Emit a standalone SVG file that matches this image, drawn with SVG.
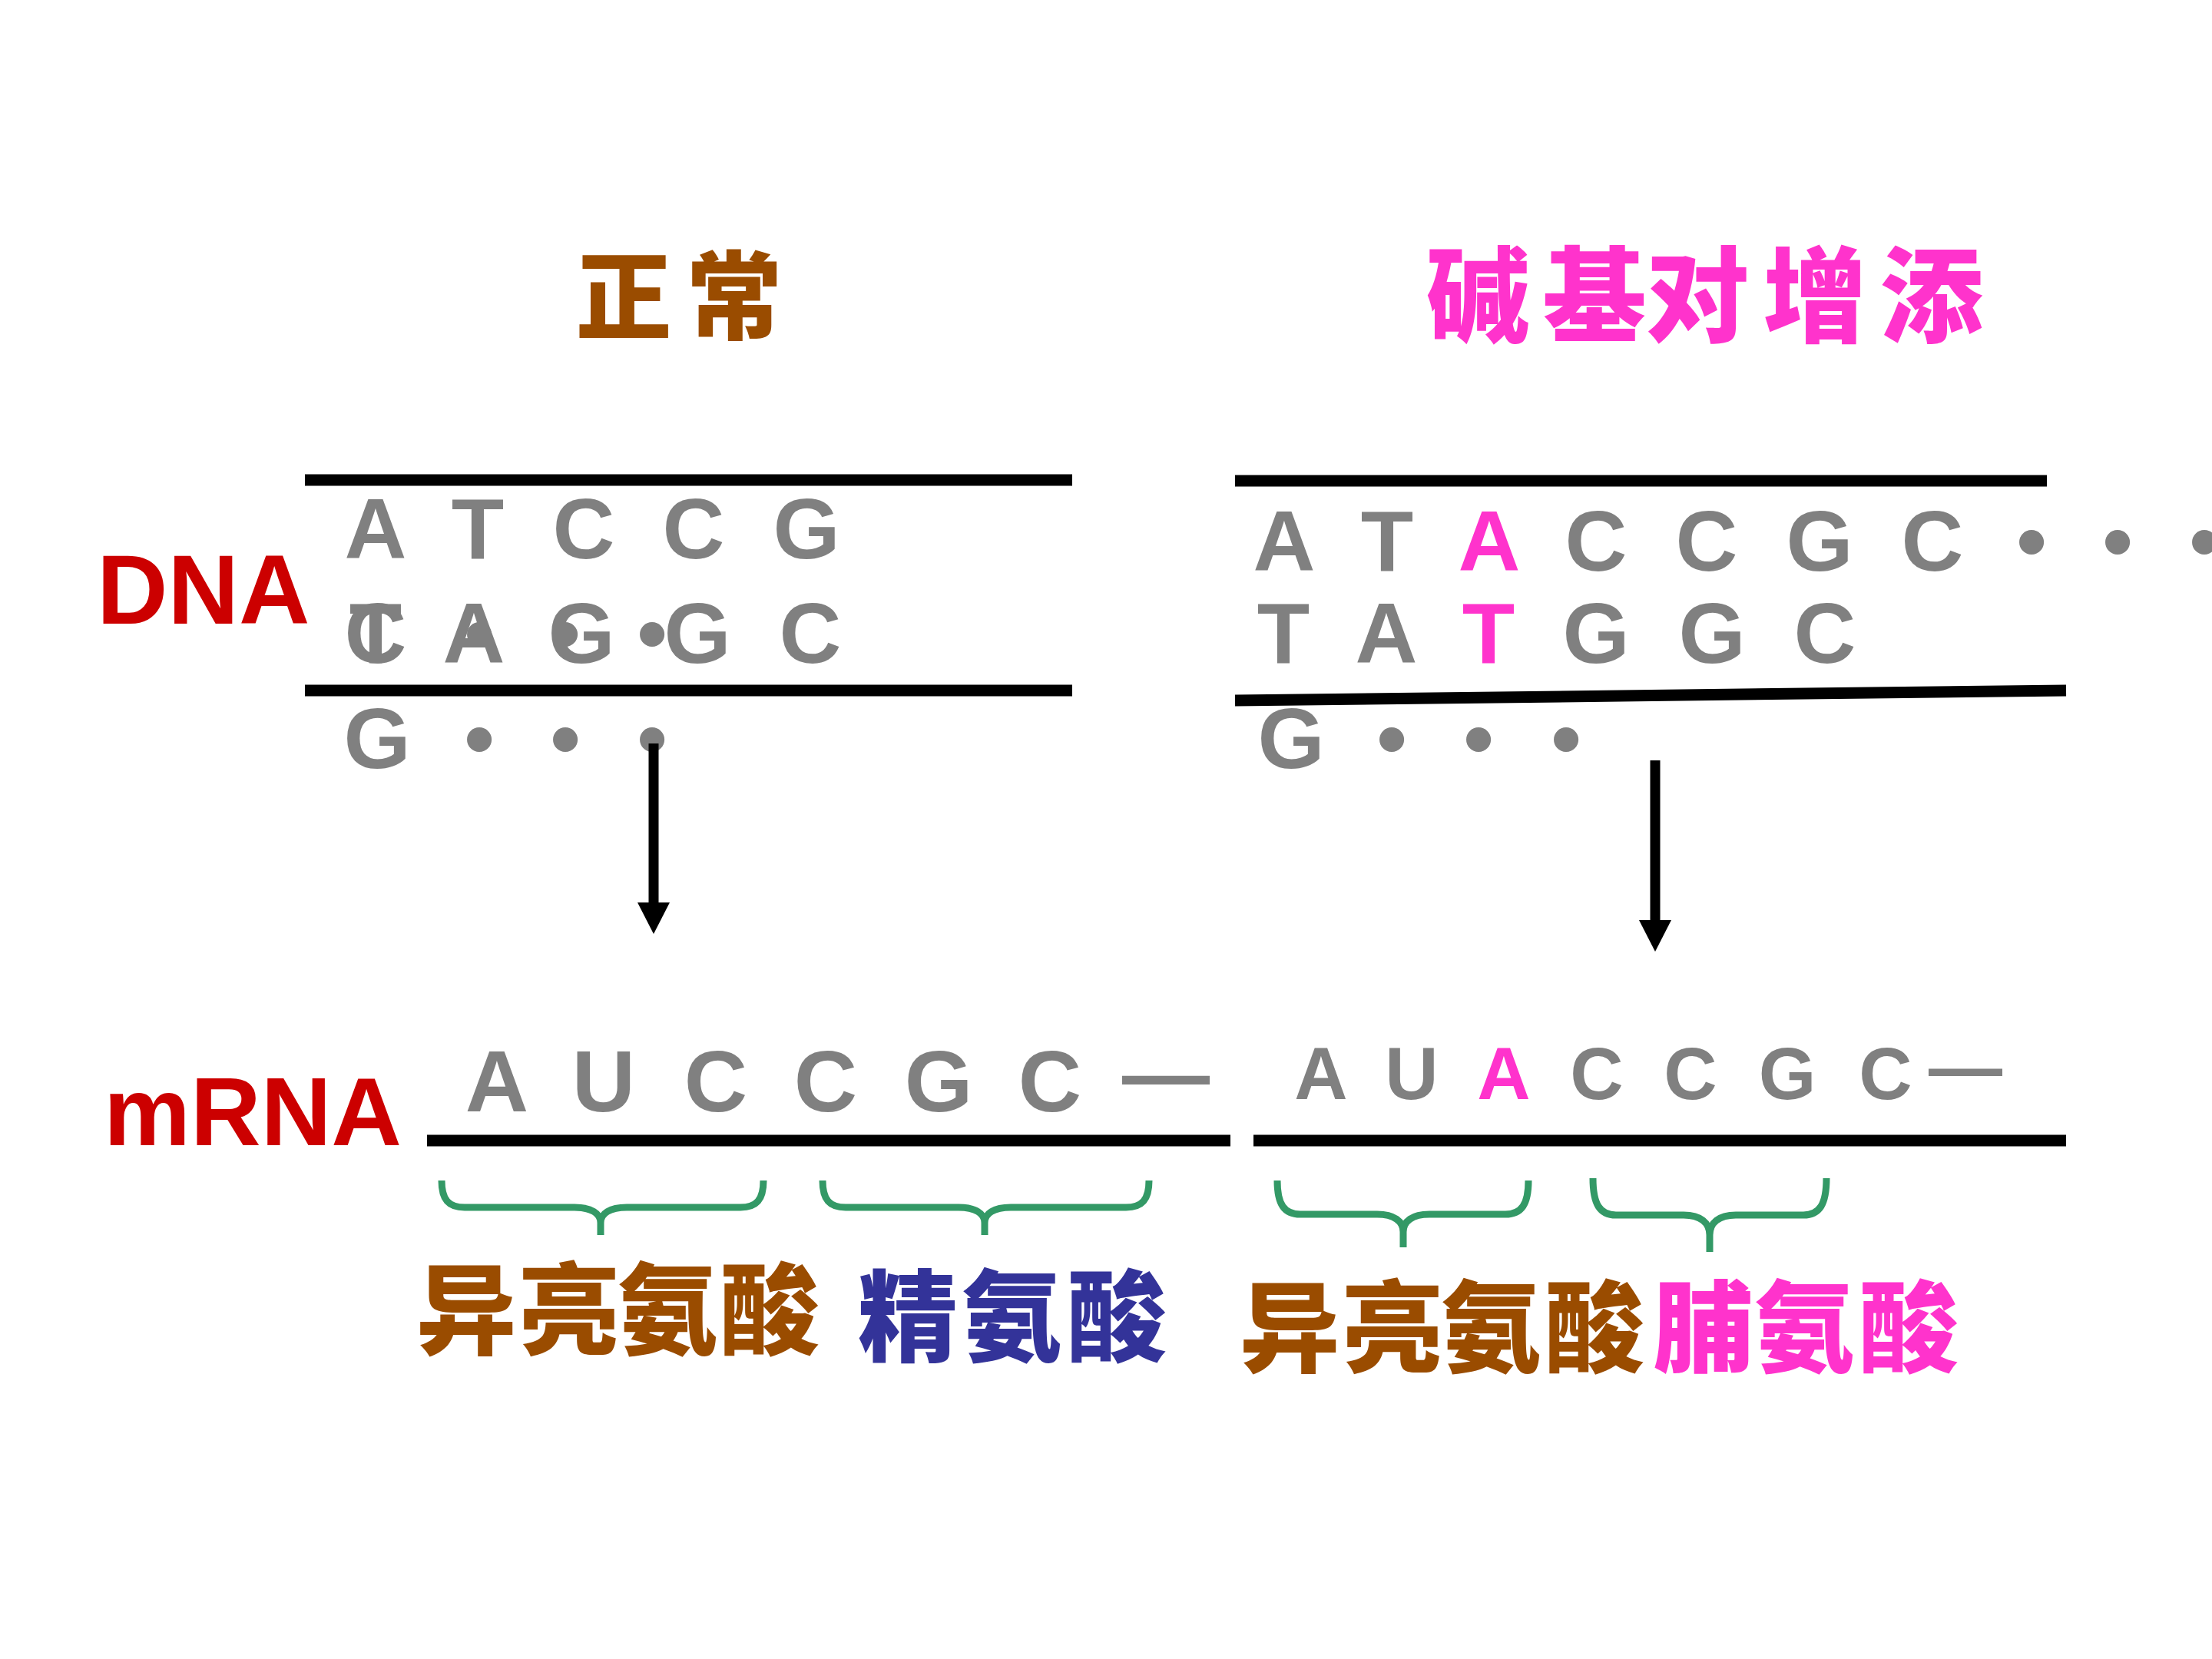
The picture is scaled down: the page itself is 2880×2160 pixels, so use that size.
<svg xmlns="http://www.w3.org/2000/svg" width="2880" height="2160" viewBox="0 0 2880 2160">
<style>
.base{font-family:"Liberation Sans",Arial,sans-serif;font-weight:bold;fill:#808080;text-anchor:middle}
.mag{fill:#ff33cc}
.lbl{font-family:"Liberation Sans",Arial,sans-serif;font-weight:bold;fill:#cc0000}
.cjk{font-family:"Noto Sans CJK SC",sans-serif;font-weight:900;text-anchor:middle}
.brown{fill:#9a4c00}
.blue{fill:#333399}
.strand{stroke:#000;stroke-width:15;fill:none}
.brace{stroke:#339966;stroke-width:9;fill:none;stroke-linecap:butt}
.arrow{stroke:#000;stroke-width:13;fill:none}
</style>
<defs>
<marker id="ah" markerUnits="userSpaceOnUse" markerWidth="42" markerHeight="44" refX="0" refY="21" orient="auto">
<path d="M0,0 L41,21 L0,42 z" fill="#000"/>
</marker>
</defs>
<rect width="2880" height="2160" fill="#fff"/>

<g id="title-normal"><text class="cjk brown" font-size="125" x="812 956" y="432">正常</text></g>
<g id="title-insertion"><text class="cjk mag" font-size="135" x="1924 2076 2210 2363 2515" y="435">碱基对增添</text></g>

<g id="label-dna"><text class="lbl" font-size="128" x="126" y="812">DNA</text></g>
<g id="label-mrna"><text class="lbl" font-size="127" x="135" y="1491">mRNA</text></g>

<g id="dna-normal">
<line class="strand" x1="397" y1="625" x2="1396" y2="625"/>
<line class="strand" x1="397" y1="899" x2="1396" y2="899"/>
<text class="base" font-size="112" x="489 622 760 903 1050" y="727">ATCCG</text>
<text class="base" font-size="112" x="489 617 757 908 1055" y="863">TAGGC</text>
<text class="base" font-size="112" x="489 624 736 849" y="863">C•••</text>
<text class="base" font-size="112" x="491 624 736 849" y="1000">G•••</text>
</g>

<g id="dna-insertion">
<line class="strand" x1="1608" y1="626" x2="2665" y2="626"/>
<line class="strand" x1="1608" y1="912" x2="2690" y2="899"/>
<text class="base" font-size="112" y="743"><tspan x="1672 1806">AT</tspan><tspan class="mag" x="1939">A</tspan><tspan x="2078 2222 2369 2516 2645 2757 2870">CCGC•••</tspan></text>
<text class="base" font-size="112" y="863"><tspan x="1671 1805">TA</tspan><tspan class="mag" x="1938">T</tspan><tspan x="2078 2229 2376">GGC</tspan></text>
<text class="base" font-size="112" x="1681 1812 1925 2039" y="1000">G•••</text>
</g>

<g id="mrna-normal">
<line class="strand" x1="556" y1="1485" x2="1602" y2="1485"/>
<text class="base" font-size="114" x="647 786 932 1075 1222 1367" y="1447">AUCCGC</text>
<text class="base" font-size="114" x="1518" y="1437">—</text>
</g>

<g id="mrna-insertion">
<line class="strand" x1="1632" y1="1485" x2="2690" y2="1485"/>
<text class="base" font-size="96" y="1431"><tspan x="1720 1838">AU</tspan><tspan class="mag" x="1958">A</tspan><tspan x="2079 2201 2327 2455">CCGC</tspan></text>
<text class="base" font-size="96" x="2559" y="1422">—</text>
</g>

<g id="amino-normal">
<path class="brace" d="M575,1537 C575,1562 584,1572 605,1572 L748,1572 C770,1572 782,1580 782,1592 L782,1608 M782,1592 C782,1580 794,1572 816,1572 L964,1572 C985,1572 994,1562 994,1537"/>
<path class="brace" d="M1071,1537 C1071,1562 1080,1572 1101,1572 L1248,1572 C1270,1572 1282,1580 1282,1592 L1282,1608 M1282,1592 C1282,1580 1294,1572 1316,1572 L1466,1572 C1487,1572 1496,1562 1496,1537"/>
<text class="cjk brown" font-size="130" x="607 741 869 1002" y="1753">异亮氨酸</text>
<text class="cjk blue" font-size="130" x="1182 1317 1454" y="1762">精氨酸</text>
</g>

<g id="amino-insertion">
<path class="brace" d="M1663,1537 C1663,1568 1672,1581 1693,1581 L1793,1581 C1815,1581 1827,1590 1827,1604 L1827,1624 M1827,1604 C1827,1590 1839,1581 1861,1581 L1960,1581 C1981,1581 1990,1568 1990,1537"/>
<path class="brace" d="M2074,1534 C2074,1568 2083,1582 2104,1582 L2192,1582 C2214,1582 2226,1592 2226,1608 L2226,1630 M2226,1608 C2226,1592 2238,1582 2260,1582 L2348,1582 C2369,1582 2378,1568 2378,1534"/>
<text class="cjk brown" font-size="130" x="1679 1813 1941 2076" y="1776">异亮氨酸</text>
<text class="cjk mag" font-size="130" x="2217 2349 2485" y="1776">脯氨酸</text>
</g>

<g id="connectors">
<line class="arrow" x1="851" y1="968" x2="851" y2="1175" marker-end="url(#ah)"/>
<line class="arrow" x1="2155" y1="990" x2="2155" y2="1198" marker-end="url(#ah)"/>
</g>
</svg>
